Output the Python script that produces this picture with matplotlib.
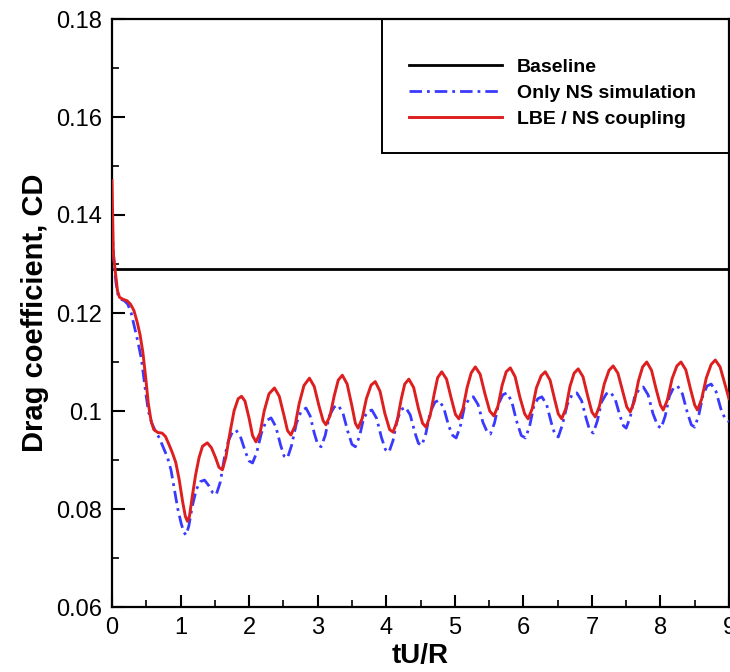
import matplotlib
matplotlib.use("Agg")
import matplotlib.pyplot as plt
from matplotlib.patches import Rectangle
from matplotlib.ticker import MultipleLocator, FormatStrFormatter

#
# data
#
baseline_cd = 0.129

red_t = [
    0.00, 0.01, 0.02, 0.04, 0.06, 0.08, 0.11, 0.16, 0.22, 0.27, 0.32, 0.37, 0.41, 0.45, 0.49,
    0.53, 0.57, 0.61, 0.67, 0.73, 0.78, 0.83, 0.88, 0.93, 0.98, 1.03, 1.07, 1.10, 1.13, 1.17,
    1.22, 1.27, 1.32, 1.39, 1.45, 1.51, 1.56, 1.61, 1.66, 1.72, 1.78, 1.84, 1.89, 1.94, 2.00,
    2.05, 2.10, 2.16, 2.22, 2.29, 2.37, 2.44, 2.51, 2.56, 2.61, 2.67, 2.73, 2.80, 2.88, 2.95,
    3.02, 3.08, 3.12, 3.18, 3.24, 3.30, 3.36, 3.43, 3.50, 3.55, 3.59, 3.65, 3.71, 3.78, 3.84,
    3.91, 3.98, 4.05, 4.10, 4.16, 4.22, 4.27, 4.33, 4.40, 4.47, 4.53, 4.58, 4.64, 4.70, 4.75,
    4.81, 4.88, 4.95, 5.01, 5.06, 5.12, 5.18, 5.24, 5.30, 5.37, 5.44, 5.51, 5.57, 5.63, 5.69,
    5.75, 5.81, 5.88, 5.95, 6.02, 6.07, 6.13, 6.19, 6.26, 6.32, 6.39, 6.46, 6.51, 6.56, 6.62,
    6.68, 6.74, 6.80, 6.87, 6.94, 7.00, 7.05, 7.11, 7.18, 7.25, 7.31, 7.38, 7.45, 7.51, 7.56,
    7.62, 7.68, 7.74, 7.80, 7.87, 7.94, 8.00, 8.04, 8.10, 8.17, 8.24, 8.30, 8.37, 8.44, 8.50,
    8.54, 8.60, 8.67, 8.74, 8.80, 8.87, 8.94, 9.00,
]
red_cd = [
    0.1470, 0.1400, 0.1320, 0.1295, 0.1270, 0.1245, 0.1232, 0.1228, 0.1225, 0.1218, 0.1205, 0.1180, 0.1155, 0.1120, 0.1070,
    0.1015, 0.0980, 0.0962, 0.0956, 0.0955, 0.0948, 0.0932, 0.0915, 0.0895, 0.0860, 0.0815, 0.0785, 0.0775, 0.0785, 0.0825,
    0.0870, 0.0905, 0.0928, 0.0935, 0.0925, 0.0905, 0.0885, 0.0880, 0.0905, 0.0955, 0.1000, 0.1025, 0.1030, 0.1020, 0.0985,
    0.0950, 0.0937, 0.0955, 0.1000, 0.1035, 0.1047, 0.1030, 0.0990, 0.0960, 0.0951, 0.0970, 0.1015, 0.1052, 0.1067, 0.1050,
    0.1010, 0.0980, 0.0972, 0.0990, 0.1030, 0.1063, 0.1073, 0.1055, 0.1010, 0.0975, 0.0965, 0.0985, 0.1025, 0.1053, 0.1060,
    0.1040, 0.0995, 0.0962, 0.0957, 0.0980, 0.1025, 0.1055, 0.1065, 0.1048, 0.1005, 0.0975, 0.0967, 0.0990, 0.1035, 0.1068,
    0.1080, 0.1065, 0.1025, 0.0993, 0.0984, 0.1005, 0.1048, 0.1078, 0.1090, 0.1075, 0.1035, 0.1000, 0.0990, 0.1010, 0.1052,
    0.1080, 0.1088, 0.1070, 0.1028, 0.0994, 0.0984, 0.1005, 0.1047, 0.1072, 0.1080, 0.1063, 0.1022, 0.0994, 0.0984, 0.1005,
    0.1050, 0.1077, 0.1086, 0.1070, 0.1030, 0.0998, 0.0988, 0.1010, 0.1055, 0.1083, 0.1092, 0.1077, 0.1040, 0.1008, 0.0998,
    0.1020, 0.1062, 0.1090, 0.1100, 0.1083, 0.1043, 0.1012, 0.1002, 0.1022, 0.1066, 0.1092, 0.1100, 0.1084, 0.1044, 0.1012,
    0.1002, 0.1024, 0.1068, 0.1095, 0.1104, 0.1090, 0.1055, 0.1025,
]

blue_t = [
    0.00, 0.01, 0.03, 0.06, 0.09, 0.13, 0.18, 0.23, 0.28, 0.33, 0.38, 0.43, 0.48, 0.53, 0.58,
    0.63, 0.69, 0.75, 0.81, 0.86, 0.91, 0.96, 1.01, 1.05, 1.08, 1.12, 1.17, 1.23, 1.29, 1.35,
    1.41, 1.47, 1.52, 1.58, 1.64, 1.70, 1.76, 1.81, 1.88, 1.95, 2.00, 2.05, 2.11, 2.18, 2.25,
    2.32, 2.39, 2.46, 2.51, 2.56, 2.62, 2.69, 2.76, 2.83, 2.89, 2.95, 3.00, 3.05, 3.11, 3.17,
    3.24, 3.30, 3.37, 3.44, 3.50, 3.55, 3.61, 3.67, 3.73, 3.79, 3.86, 3.93, 3.99, 4.04, 4.10,
    4.16, 4.22, 4.28, 4.35, 4.42, 4.47, 4.52, 4.58, 4.64, 4.71, 4.77, 4.84, 4.91, 4.97, 5.02,
    5.08, 5.14, 5.21, 5.27, 5.34, 5.41, 5.47, 5.52, 5.58, 5.64, 5.70, 5.76, 5.83, 5.90, 5.97,
    6.03, 6.09, 6.15, 6.21, 6.27, 6.34, 6.41, 6.46, 6.51, 6.57, 6.64, 6.71, 6.78, 6.85, 6.92,
    6.97, 7.02, 7.08, 7.14, 7.21, 7.27, 7.34, 7.41, 7.46, 7.50, 7.56, 7.62, 7.69, 7.75, 7.82,
    7.89, 7.96, 8.01, 8.07, 8.13, 8.19, 8.25, 8.32, 8.39, 8.45, 8.50, 8.56, 8.62, 8.68, 8.74,
    8.81, 8.88, 8.94, 9.00,
]
blue_cd = [
    0.1380, 0.1350, 0.1300, 0.1260, 0.1235, 0.1228, 0.1225, 0.1218, 0.1200, 0.1170, 0.1140, 0.1105, 0.1050, 0.1000, 0.0975,
    0.0960, 0.0945, 0.0925, 0.0905, 0.0880, 0.0840, 0.0800, 0.0770, 0.0752, 0.0747, 0.0765, 0.0805, 0.0840, 0.0856, 0.0859,
    0.0848, 0.0833, 0.0829, 0.0855, 0.0905, 0.0940, 0.0958, 0.0961, 0.0945, 0.0915, 0.0898, 0.0894, 0.0915, 0.0955, 0.0980,
    0.0986, 0.0968, 0.0930, 0.0908, 0.0904, 0.0930, 0.0975, 0.1000, 0.1006, 0.0990, 0.0955, 0.0932, 0.0927, 0.0950, 0.0990,
    0.1008, 0.1012, 0.0995, 0.0958, 0.0932, 0.0927, 0.0948, 0.0985, 0.0999, 0.1002, 0.0985, 0.0946, 0.0921, 0.0916, 0.0940,
    0.0982, 0.1003, 0.1008, 0.0992, 0.0955, 0.0934, 0.0930, 0.0955, 0.0997, 0.1018, 0.1022, 0.1006, 0.0970, 0.0950, 0.0945,
    0.0968, 0.1008, 0.1025, 0.1029, 0.1013, 0.0977, 0.0958, 0.0953, 0.0976, 0.1015, 0.1033, 0.1037, 0.1020, 0.0980, 0.0950,
    0.0945, 0.0968, 0.1008, 0.1025, 0.1029, 0.1013, 0.0975, 0.0952, 0.0947, 0.0972, 0.1013, 0.1033, 0.1037, 0.1021, 0.0983,
    0.0960, 0.0955, 0.0980, 0.1018, 0.1035, 0.1039, 0.1024, 0.0990, 0.0970, 0.0965, 0.0988, 0.1027, 0.1045, 0.1049, 0.1033,
    0.0995, 0.0970, 0.0965, 0.0990, 0.1030, 0.1047, 0.1051, 0.1035, 0.0998, 0.0972, 0.0967, 0.0992, 0.1032, 0.1051, 0.1055,
    0.1040, 0.1005, 0.0985, 0.0978,
]

labels = ["Baseline", "Only NS simulation", "LBE / NS coupling"]

plt.rcParams["font.family"] = ["Liberation Sans", "DejaVu Sans"]

fig = plt.figure(figsize=(7.30, 6.72), dpi=100)
ax = fig.add_axes([112 / 730, 65 / 672, 617 / 730, 588 / 672])

l0 = ax.axhline(baseline_cd, color="black", lw=2.0, zorder=2)
(l1,) = ax.plot(blue_t, blue_cd, color="#3a3aff", lw=2.0, dashes=(4.5, 1.8, 1.0, 1.8), zorder=3)
(l2,) = ax.plot(red_t, red_cd, color="#dd1f1f", lw=2.1, zorder=4)

ax.set_xlim(0, 9)
ax.set_ylim(0.06, 0.18)
ax.xaxis.set_major_locator(MultipleLocator(1))
ax.xaxis.set_minor_locator(MultipleLocator(0.5))
ax.yaxis.set_major_locator(MultipleLocator(0.02))
ax.yaxis.set_minor_locator(MultipleLocator(0.01))
ax.yaxis.set_major_formatter(FormatStrFormatter("%g"))

ax.tick_params(which="both", direction="in", top=False, right=False, labelsize=17, pad=7)
ax.tick_params(which="major", length=9, width=1.5)
ax.tick_params(which="minor", length=5, width=1.2)
for sp in ax.spines.values():
    sp.set_linewidth(1.6)

ax.set_xlabel("tU/R", fontsize=20, fontweight="bold", labelpad=3)
ax.set_ylabel("Drag coefficient, CD", fontsize=21, fontweight="bold", labelpad=5)

# legend box
ax.add_patch(Rectangle((270 / 617, 454 / 588), 347 / 617, 134 / 588, transform=ax.transAxes,
                       fill=False, edgecolor="black", lw=1.4, zorder=5, clip_on=False))
leg = ax.legend([l0, l1, l2], labels, loc="upper left", bbox_to_anchor=(297 / 617, 0.933),
                frameon=False, borderpad=0, borderaxespad=0, handlelength=4.8, handletextpad=0.75,
                labelspacing=0.42, prop={"size": 14, "weight": "bold"})

fig.savefig("out.png", dpi=100)
